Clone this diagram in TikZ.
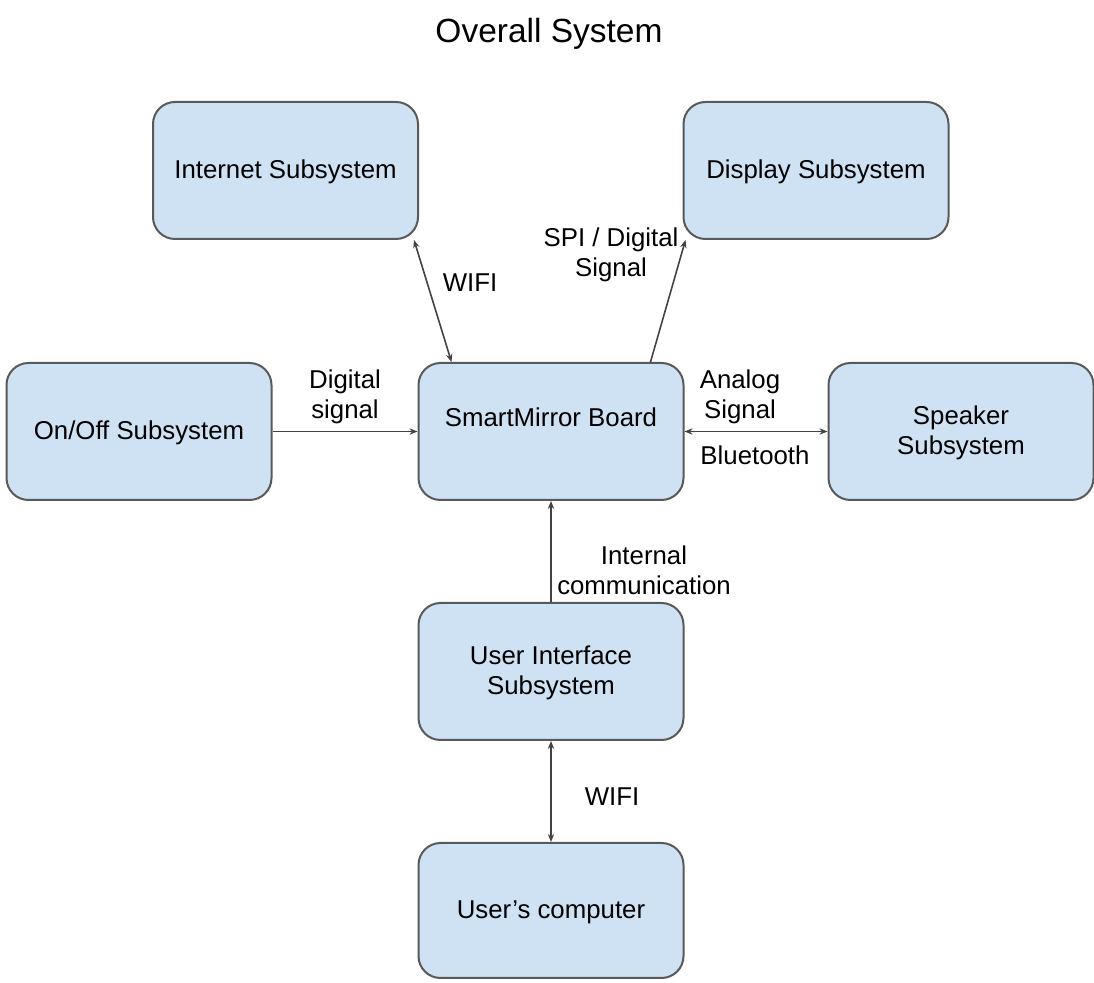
\documentclass[tikz,border=0pt]{standalone}
\usepackage{fontspec}
\setmainfont{Liberation Sans}
\usetikzlibrary{arrows.meta,calc}
\definecolor{boxfill}{HTML}{CFE2F3}
\definecolor{boxline}{HTML}{595959}
\definecolor{wire}{HTML}{434343}
\begin{document}
\begin{tikzpicture}[x=0.5pt,y=-0.5pt,
  block/.style={draw=boxline, line width=1pt, fill=boxfill, rounded corners=11pt,
    minimum width=132.5pt, minimum height=68.5pt, inner sep=0pt, align=center,
    font=\fontsize{12.9}{15}\selectfont},
  tag/.style={align=center, inner sep=0pt, font=\fontsize{12.9}{15}\selectfont},
  wireline/.style={draw=wire, line width=0.8pt},
  tip/.style={wireline, -{Stealth[length=4pt,width=3.2pt]}},
  bitip/.style={wireline, {Stealth[length=4pt,width=3.2pt]}-{Stealth[length=4pt,width=3.2pt]}}]
  \useasboundingbox (0,0) rectangle (1094,983);

  % title
  \node[tag, font=\fontsize{16.75}{20}\selectfont] (title) at (549,34) {Overall System};

  % subsystem blocks, each with its caption set as a separate node
  \node[block] (inet) at (285.5,170.5) {};
  \node[tag] (inet-t) at (285.5,172) {Internet Subsystem};
  \node[block] (disp) at (816,170.5) {};
  \node[tag] (disp-t) at (816,172) {Display Subsystem};
  \node[block] (onoff) at (139,431.5) {};
  \node[tag] (onoff-t) at (139,433) {On/Off Subsystem};
  \node[block] (sm) at (551,431.5) {};
  \node[tag] (sm-t) at (551,417) {SmartMirror Board};
  \node[block] (spk) at (961,431.5) {};
  \node[tag] (spk-t) at (961,433) {Speaker\\Subsystem};
  \node[block] (ui) at (551,671.5) {};
  \node[tag] (ui-t) at (551,673) {User Interface\\Subsystem};
  \node[block, minimum height=67.5pt] (comp) at (551,910.5) {};
  \node[tag] (comp-t) at (551,912) {User's computer};

  % connections
  \draw[bitip] ($(inet.south east)+(-5,0)$) -- ($(sm.north west)+(34,0)$);
  \draw[tip] ($(sm.north east)+(-34,0)$) -- ($(disp.south west)+(3,0)$);
  \draw[tip] (onoff.east) -- (sm.west);
  \draw[bitip] (sm.east) -- (spk.west);
  \draw[tip] (ui.north) -- (sm.south);
  \draw[bitip] (ui.south) -- (comp.north);

  % connection labels
  \node[tag] (l-wifi1) at (470,283) {WIFI};
  \node[tag] (l-spi) at (611,255) {SPI / Digital\\Signal};
  \node[tag] (l-dig) at (345,397) {Digital\\signal};
  \node[tag] (l-ana) at (740,397) {Analog\\Signal};
  \node[tag] (l-bt) at (755,455) {Bluetooth};
  \node[tag] (l-int) at (644,570) {Internal\\communication};
  \node[tag] (l-wifi2) at (612,797) {WIFI};
\end{tikzpicture}
\end{document}
